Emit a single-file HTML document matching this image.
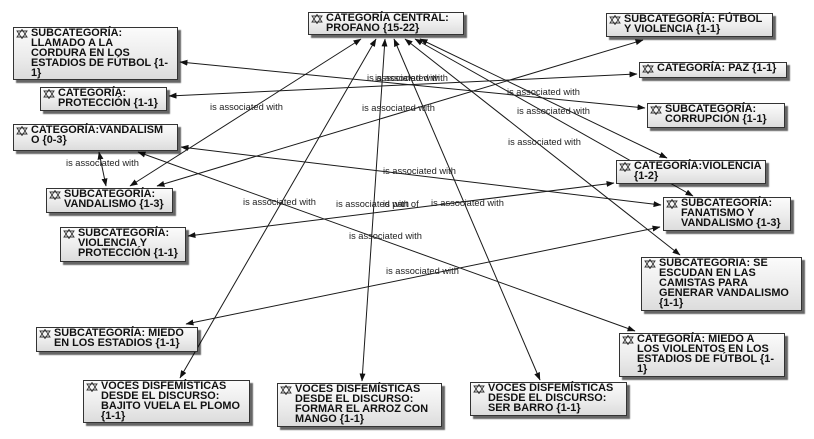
<!DOCTYPE html>
<html>
<head>
<meta charset="utf-8">
<style>
  html,body{margin:0;padding:0;}
  body{width:814px;height:439px;overflow:hidden;background:#fff;position:relative;
       font-family:"Liberation Sans",Arial,sans-serif;}
  svg.lines{position:absolute;left:0;top:0;}
  .b{position:absolute;box-sizing:border-box;border:1px solid #333;
     background:linear-gradient(to bottom,#fbfbfb 0%,#ececec 55%,#dcdcdc 100%);
     box-shadow:3px 3px 1px rgba(0,0,0,0.6);
     font-weight:bold;font-size:10.9px;line-height:9.9px;color:#111;
     padding-left:17px;padding-top:1px;white-space:nowrap;}
  .b svg{position:absolute;left:2px;top:1px;}
  .lbl{font-family:"Liberation Sans",Arial,sans-serif;font-size:9.3px;fill:#222;}
</style>
</head>
<body>
<svg class="lines" width="814" height="439" viewBox="0 0 814 439">
  <defs>
    <marker id="ah" markerUnits="userSpaceOnUse" markerWidth="8" markerHeight="6" refX="7.5" refY="3" orient="auto-start-reverse">
      <path d="M0,0 L8,3 L0,6 z" fill="#111"/>
    </marker>
  </defs>
  <g stroke="#1a1a1a" stroke-width="1" fill="none" marker-start="url(#ah)" marker-end="url(#ah)">
    <line x1="180" y1="62" x2="645" y2="108"/>
    <line x1="169" y1="96" x2="637" y2="74"/>
    <line x1="361" y1="39" x2="130" y2="186"/>
    <line x1="643" y1="40" x2="157" y2="186"/>
    <line x1="181" y1="147" x2="661" y2="205"/>
    <line x1="99" y1="152" x2="106" y2="186"/>
    <line x1="138" y1="152" x2="635" y2="331"/>
    <line x1="188" y1="236" x2="614" y2="183"/>
    <line x1="186" y1="324" x2="660" y2="227"/>
    <line x1="376" y1="39" x2="180" y2="378"/>
    <line x1="385" y1="39" x2="362" y2="381"/>
    <line x1="394" y1="39" x2="540" y2="380"/>
    <line x1="405" y1="39" x2="680" y2="255"/>
    <line x1="415" y1="39" x2="693" y2="196"/>
    <line x1="420" y1="39" x2="667" y2="158"/>
  </g>
</svg>

<div class="b" style="left:13px;top:27px;width:165px;height:53px"><svg width="12" height="10" viewBox="0 0 12 10"><polygon points="6,0.5 11,8 1,8" fill="none" stroke="#333" stroke-width="0.9"/><polygon points="6,9.5 1,2 11,2" fill="none" stroke="#333" stroke-width="0.9"/></svg>SUBCATEGORÍA:<br>LLAMADO A LA<br>CORDURA EN LOS<br>ESTADIOS DE FÚTBOL {1-<br>1}</div>

<div class="b" style="left:40px;top:87px;width:127px;height:24px"><svg width="12" height="10" viewBox="0 0 12 10"><polygon points="6,0.5 11,8 1,8" fill="none" stroke="#333" stroke-width="0.9"/><polygon points="6,9.5 1,2 11,2" fill="none" stroke="#333" stroke-width="0.9"/></svg>CATEGORÍA:<br>PROTECCIÓN {1-1}</div>

<div class="b" style="left:13px;top:124px;width:165px;height:27px"><svg width="12" height="10" viewBox="0 0 12 10"><polygon points="6,0.5 11,8 1,8" fill="none" stroke="#333" stroke-width="0.9"/><polygon points="6,9.5 1,2 11,2" fill="none" stroke="#333" stroke-width="0.9"/></svg>CATEGORÍA:VANDALISM<br>O {0-3}</div>

<div class="b" style="left:46px;top:188px;width:127px;height:25px"><svg width="12" height="10" viewBox="0 0 12 10"><polygon points="6,0.5 11,8 1,8" fill="none" stroke="#333" stroke-width="0.9"/><polygon points="6,9.5 1,2 11,2" fill="none" stroke="#333" stroke-width="0.9"/></svg>SUBCATEGORÍA:<br>VANDALISMO {1-3}</div>

<div class="b" style="left:60px;top:227px;width:126px;height:35px"><svg width="12" height="10" viewBox="0 0 12 10"><polygon points="6,0.5 11,8 1,8" fill="none" stroke="#333" stroke-width="0.9"/><polygon points="6,9.5 1,2 11,2" fill="none" stroke="#333" stroke-width="0.9"/></svg>SUBCATEGORÍA:<br>VIOLENCIA Y<br>PROTECCIÓN {1-1}</div>

<div class="b" style="left:36px;top:327px;width:162px;height:25px"><svg width="12" height="10" viewBox="0 0 12 10"><polygon points="6,0.5 11,8 1,8" fill="none" stroke="#333" stroke-width="0.9"/><polygon points="6,9.5 1,2 11,2" fill="none" stroke="#333" stroke-width="0.9"/></svg>SUBCATEGORÍA: MIEDO<br>EN LOS ESTADIOS {1-1}</div>

<div class="b" style="left:83px;top:380px;width:167px;height:43px"><svg width="12" height="10" viewBox="0 0 12 10"><polygon points="6,0.5 11,8 1,8" fill="none" stroke="#333" stroke-width="0.9"/><polygon points="6,9.5 1,2 11,2" fill="none" stroke="#333" stroke-width="0.9"/></svg>VOCES DISFEMÍSTICAS<br>DESDE EL DISCURSO:<br>BAJITO VUELA EL PLOMO<br>{1-1}</div>

<div class="b" style="left:277px;top:383px;width:165px;height:44px"><svg width="12" height="10" viewBox="0 0 12 10"><polygon points="6,0.5 11,8 1,8" fill="none" stroke="#333" stroke-width="0.9"/><polygon points="6,9.5 1,2 11,2" fill="none" stroke="#333" stroke-width="0.9"/></svg>VOCES DISFEMÍSTICAS<br>DESDE EL DISCURSO:<br>FORMAR EL ARROZ CON<br>MANGO {1-1}</div>

<div class="b" style="left:470px;top:382px;width:157px;height:34px"><svg width="12" height="10" viewBox="0 0 12 10"><polygon points="6,0.5 11,8 1,8" fill="none" stroke="#333" stroke-width="0.9"/><polygon points="6,9.5 1,2 11,2" fill="none" stroke="#333" stroke-width="0.9"/></svg>VOCES DISFEMÍSTICAS<br>DESDE EL DISCURSO:<br>SER BARRO {1-1}</div>

<div class="b" style="left:619px;top:333px;width:166px;height:44px"><svg width="12" height="10" viewBox="0 0 12 10"><polygon points="6,0.5 11,8 1,8" fill="none" stroke="#333" stroke-width="0.9"/><polygon points="6,9.5 1,2 11,2" fill="none" stroke="#333" stroke-width="0.9"/></svg>CATEGORÍA: MIEDO A<br>LOS VIOLENTOS EN LOS<br>ESTADIOS DE FÚTBOL {1-<br>1}</div>

<div class="b" style="left:641px;top:257px;width:161px;height:54px"><svg width="12" height="10" viewBox="0 0 12 10"><polygon points="6,0.5 11,8 1,8" fill="none" stroke="#333" stroke-width="0.9"/><polygon points="6,9.5 1,2 11,2" fill="none" stroke="#333" stroke-width="0.9"/></svg>SUBCATEGORIA: SE<br>ESCUDAN EN LAS<br>CAMISTAS PARA<br>GENERAR VANDALISMO<br>{1-1}</div>

<div class="b" style="left:663px;top:197px;width:128px;height:34px"><svg width="12" height="10" viewBox="0 0 12 10"><polygon points="6,0.5 11,8 1,8" fill="none" stroke="#333" stroke-width="0.9"/><polygon points="6,9.5 1,2 11,2" fill="none" stroke="#333" stroke-width="0.9"/></svg>SUBCATEGORÍA:<br>FANATISMO Y<br>VANDALISMO {1-3}</div>

<div class="b" style="left:616px;top:160px;width:150px;height:24px"><svg width="12" height="10" viewBox="0 0 12 10"><polygon points="6,0.5 11,8 1,8" fill="none" stroke="#333" stroke-width="0.9"/><polygon points="6,9.5 1,2 11,2" fill="none" stroke="#333" stroke-width="0.9"/></svg>CATEGORÍA:VIOLENCIA<br>{1-2}</div>

<div class="b" style="left:647px;top:103px;width:138px;height:25px"><svg width="12" height="10" viewBox="0 0 12 10"><polygon points="6,0.5 11,8 1,8" fill="none" stroke="#333" stroke-width="0.9"/><polygon points="6,9.5 1,2 11,2" fill="none" stroke="#333" stroke-width="0.9"/></svg>SUBCATEGORÍA:<br>CORRUPCIÓN {1-1}</div>

<div class="b" style="left:639px;top:62px;width:148px;height:16px"><svg width="12" height="10" viewBox="0 0 12 10"><polygon points="6,0.5 11,8 1,8" fill="none" stroke="#333" stroke-width="0.9"/><polygon points="6,9.5 1,2 11,2" fill="none" stroke="#333" stroke-width="0.9"/></svg>CATEGORÍA: PAZ {1-1}</div>

<div class="b" style="left:606px;top:13px;width:167px;height:24px"><svg width="12" height="10" viewBox="0 0 12 10"><polygon points="6,0.5 11,8 1,8" fill="none" stroke="#333" stroke-width="0.9"/><polygon points="6,9.5 1,2 11,2" fill="none" stroke="#333" stroke-width="0.9"/></svg>SUBCATEGORÍA: FÚTBOL<br>Y VIOLENCIA {1-1}</div>

<div class="b" style="left:308px;top:12px;width:156px;height:23px"><svg width="12" height="10" viewBox="0 0 12 10"><polygon points="6,0.5 11,8 1,8" fill="none" stroke="#333" stroke-width="0.9"/><polygon points="6,9.5 1,2 11,2" fill="none" stroke="#333" stroke-width="0.9"/></svg>CATEGORÍA CENTRAL:<br>PROFANO {15-22}</div>

<svg class="lines" width="814" height="439" viewBox="0 0 814 439" style="pointer-events:none">
  <text class="lbl" x="367" y="81">is associated with</text>
  <text class="lbl" x="375" y="81">is associated with</text>
  <text class="lbl" x="210" y="110">is associated with</text>
  <text class="lbl" x="362" y="111">is associated with</text>
  <text class="lbl" x="507" y="95">is associated with</text>
  <text class="lbl" x="517" y="114">is associated with</text>
  <text class="lbl" x="508" y="145">is associated with</text>
  <text class="lbl" x="66" y="166">is associated with</text>
  <text class="lbl" x="383" y="174">is associated with</text>
  <text class="lbl" x="243" y="205">is associated with</text>
  <text class="lbl" x="336" y="207">is associated with</text>
  <text class="lbl" x="383" y="207">is part of</text>
  <text class="lbl" x="431" y="206">is associated with</text>
  <text class="lbl" x="349" y="239">is associated with</text>
  <text class="lbl" x="386" y="274">is associated with</text>
</svg>
</body>
</html>
